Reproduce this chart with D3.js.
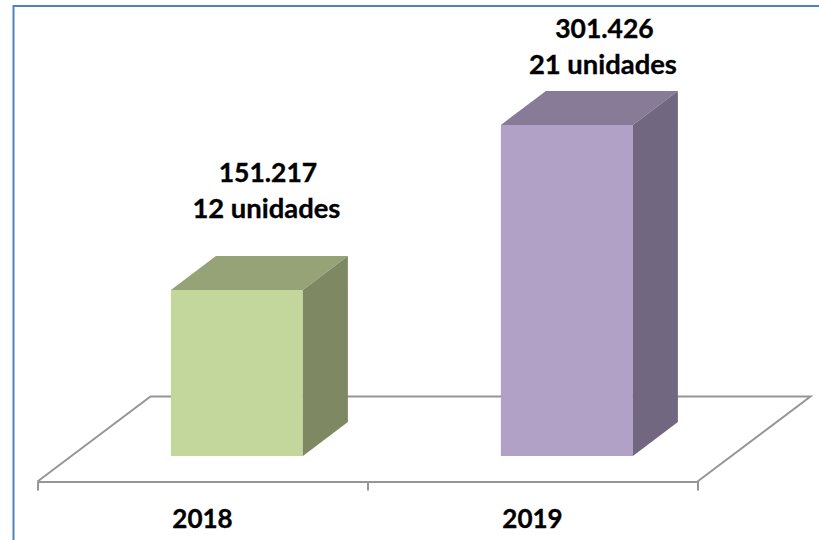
<!DOCTYPE html>
<html>
<head>
<meta charset="utf-8">
<script src="https://cdn.jsdelivr.net/npm/d3@7"></script>
<style>
html, body { margin: 0; padding: 0; background: #fff; }
svg { display: block; }
text { font-family: Lato, "Open Sans", sans-serif; font-weight: 700; fill: #000; stroke: #000; stroke-width: 0.35; }
</style>
</head>
<body>
<div id="chart"></div>
<script>
const years = ['2018', '2019']
const totals = [151217, 301426]
const valueLabels = ['151.217', '301.426']
const unitLabels = ['12 unidades', '21 unidades']
const faceColors = ['#c3d69b', '#b2a1c7']
const topColors = ['#95a377', '#887b98']
const sideColors = ['#7e8963', '#716780']

const width = 819
const height = 540

// plano do chao
const floorLeft = 37.5
const floorRight = 697.5
const floorFront = 481.5
const floorDx = 113
const floorDy = 85

// barra
const barWidth = 132
const barDx = 45
const barDy = 34
const baseY = 456

// ajuste dos rotulos, um por barra
const labelShift = [31, 37.5]
const labelGap = [72, 51]

const svg = d3.select('#chart').append('svg')
    .attr('width', width)
    .attr('height', height)

const x = d3.scaleBand()
    .domain(years)
    .range([floorLeft, floorRight])

const edges = d3.scaleLinear()
    .domain([0, years.length])
    .range([floorLeft, floorRight])

// 166px para 151.217
const y = d3.scaleLinear()
    .domain([0, 300000])
    .range([baseY, baseY - 329.5])

// moldura
svg.append('path')
    .attr('d', `M13.5,${height}V6H${width}`)
    .attr('fill', 'none')
    .attr('stroke', '#4f81bd')
    .attr('stroke-width', 2)

// chao
svg.append('path')
    .attr('d', `M${floorLeft},${floorFront}L${floorLeft + floorDx},${floorFront - floorDy}H${floorRight + floorDx}L${floorRight},${floorFront}`)
    .attr('fill', 'none')
    .attr('stroke', '#969696')
    .attr('stroke-width', 2)

const axis = svg.append('g')
    .attr('transform', `translate(0,${floorFront})`)
    .call(d3.axisBottom(edges).tickValues(d3.range(years.length + 1)).tickSize(9).tickFormat('').tickSizeOuter(0))
axis.selectAll('path, line')
    .attr('stroke', '#969696')
    .attr('stroke-width', 2)

// barras
const bars = svg.selectAll('.bar')
    .data(years)
    .enter()
    .append('g')
    .attr('class', 'bar')

const frontX = d => x(d) + x.bandwidth() / 2 + 34.4 - barWidth / 2
const topY = (d, i) => y(totals[i])

bars.append('rect')
    .attr('x', frontX)
    .attr('y', topY)
    .attr('width', barWidth)
    .attr('height', (d, i) => baseY - topY(d, i))
    .attr('fill', (d, i) => faceColors[i])

bars.append('path')
    .attr('d', (d, i) => {
        const x0 = frontX(d), t = topY(d, i)
        return `M${x0},${t}l${barDx},${-barDy}h${barWidth}l${-barDx},${barDy}Z`
    })
    .attr('fill', (d, i) => topColors[i])

bars.append('path')
    .attr('d', (d, i) => {
        const x1 = frontX(d) + barWidth, t = topY(d, i)
        return `M${x1},${t}l${barDx},${-barDy}V${baseY - barDy}L${x1},${baseY}Z`
    })
    .attr('fill', (d, i) => sideColors[i])

// rotulos
const labelX = (d, i) => frontX(d) + barWidth / 2 + labelShift[i]

bars.append('text')
    .attr('x', labelX)
    .attr('y', (d, i) => topY(d, i) - labelGap[i] - 36)
    .attr('text-anchor', 'middle')
    .attr('font-size', 26.5)
    .text((d, i) => valueLabels[i])

bars.append('text')
    .attr('x', (d, i) => labelX(d, i) - 1.5)
    .attr('y', (d, i) => topY(d, i) - labelGap[i])
    .attr('text-anchor', 'middle')
    .attr('font-size', 27.4)
    .text((d, i) => unitLabels[i])

svg.selectAll('.year')
    .data(years)
    .enter()
    .append('text')
    .attr('class', 'year')
    .attr('x', d => x(d) + x.bandwidth() / 2)
    .attr('y', 528)
    .attr('text-anchor', 'middle')
    .attr('font-size', 26)
    .text(d => d)
</script>
</body>
</html>
